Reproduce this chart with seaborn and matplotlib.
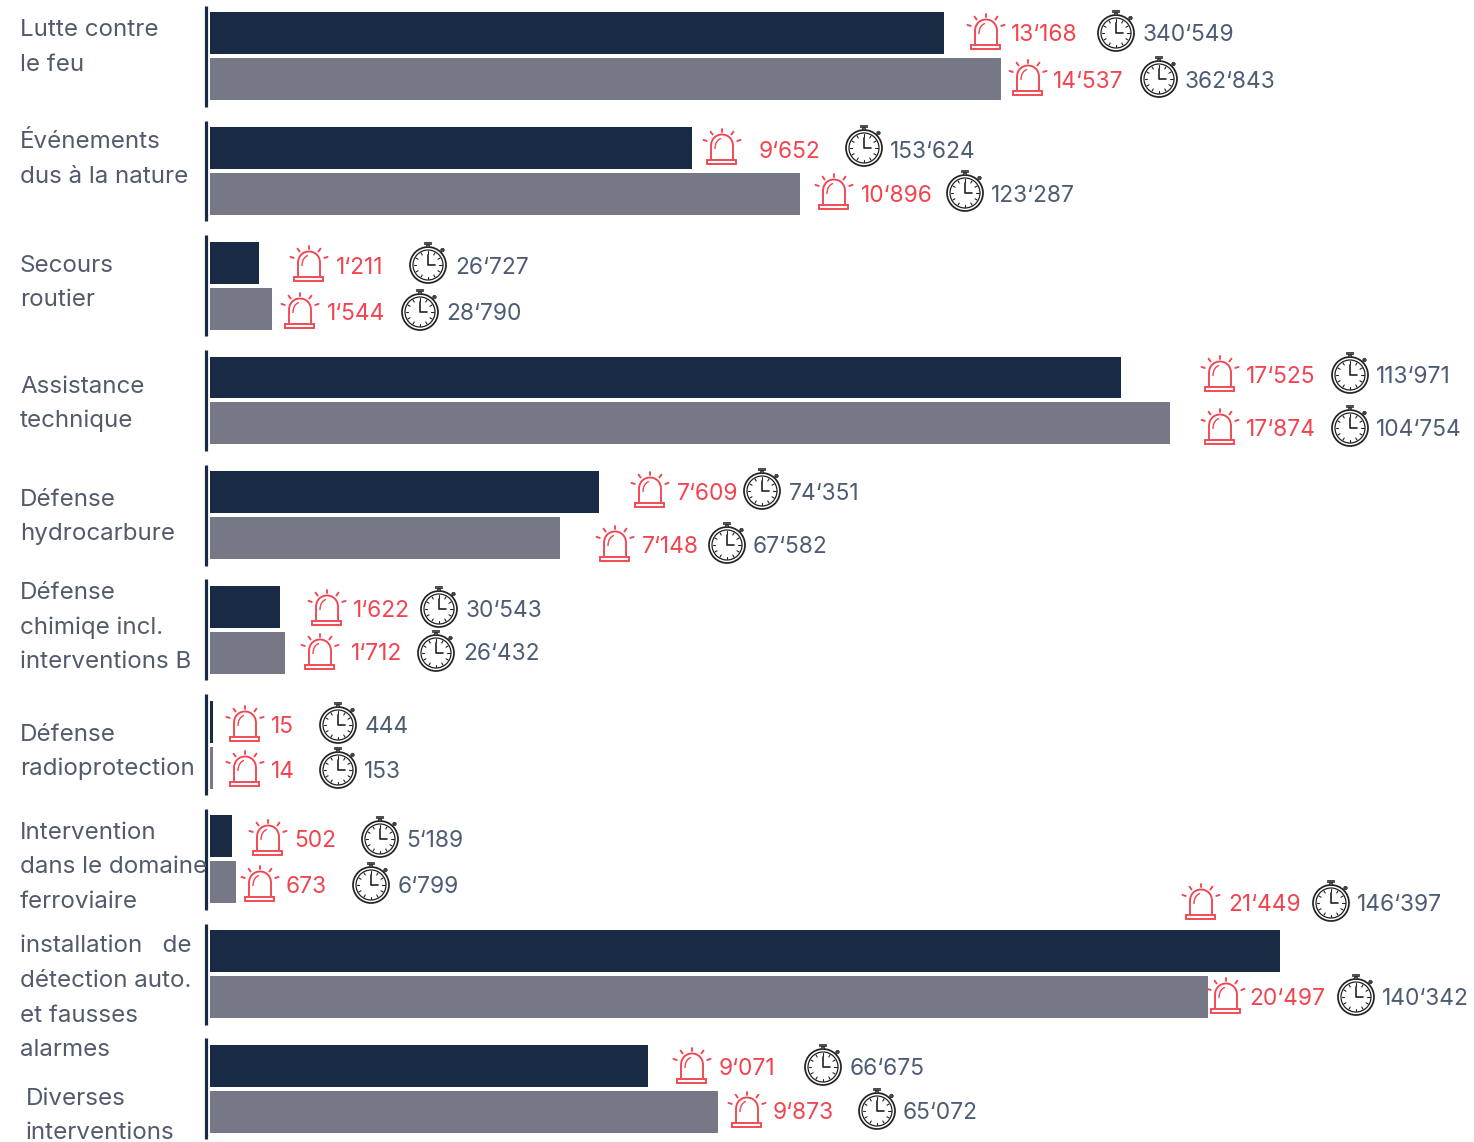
import numpy as np
import pandas as pd
import matplotlib
matplotlib.use("Agg")
import matplotlib.pyplot as plt
import seaborn as sns
from matplotlib.transforms import Affine2D
from matplotlib.patches import Circle, Rectangle, PathPatch
from matplotlib.path import Path

W, H = 1474, 1142
DARK, GREY, RED, LABEL, NUM = "#182a44", "#767886", "#f2444f", "#515b6b", "#4d5c73"

categories = ["Lutte contre le feu", "Événements dus à la nature", "Secours routier",
              "Assistance technique", "Défense hydrocarbure",
              "Défense chimiqe incl. interventions B", "Défense radioprotection",
              "Intervention dans le domaine ferroviaire",
              "installation de détection auto. et fausses alarmes", "Diverses interventions"]
label_lines = [["Lutte contre", "le feu"], ["Événements", "dus à la nature"], ["Secours", "routier"],
               ["Assistance", "technique"], ["Défense", "hydrocarbure"],
               ["Défense", "chimiqe incl.", "interventions B"], ["Défense", "radioprotection"],
               ["Intervention", "dans le domaine", "ferroviaire"],
               ["installation   de", "détection auto.", "et fausses", "alarmes"],
               ["Diverses", "interventions"]]

# bar lengths as drawn (they are not strictly proportional to the printed numbers)
bars_a = [734, 482, 49, 911, 389, 70, 3, 22, 1070, 438]
bars_b = [791, 590, 62, 960, 350, 75, 3, 26, 998, 508]
alarms_a = [13168, 9652, 1211, 17525, 7609, 1622, 15, 502, 21449, 9071]
alarms_b = [14537, 10896, 1544, 17874, 7148, 1712, 14, 673, 20497, 9873]
hours_a = [340549, 153624, 26727, 113971, 74351, 30543, 444, 5189, 146397, 66675]
hours_b = [362843, 123287, 28790, 104754, 67582, 26432, 153, 6799, 140342, 65072]

# layout (pixels): alarm x, alarm text x, watch x, watch text x, icon y, text y
layout_a = [(985, 1011, 1116, 1143, 32, 33), (721, 759, 864, 890, 147, 150), (308, 336, 428, 455, 264, 266),
            (1219, 1246, 1350, 1376, 374, 375), (649, 677, 762, 789, 490, 492), (326, 353, 439, 466, 608, 609),
            (244, 271, 338, 365, 724, 725), (267, 294, 380, 406, 838, 839), (1200, 1228, 1331, 1357, 902, 903),
            (691, 719, 823, 850, 1066, 1067)]
layout_b = [(1027, 1053, 1159, 1185, 78, 80), (833, 861, 965, 991, 192, 194), (299, 327, 420, 446, 311, 312),
            (1219, 1246, 1350, 1376, 427, 428), (614, 642, 727, 753, 544, 545), (319, 351, 436, 463, 652, 652),
            (244, 271, 338, 364, 769, 770), (259, 286, 371, 398, 884, 885), (1225, 1249, 1356, 1382, 996, 997),
            (746, 773, 877, 903, 1110, 1111)]
label_y = [[28, 63], [140, 175], [264, 298], [385, 419], [498, 532], [591, 626, 660], [733, 767],
           [831, 865, 900], [944, 979, 1014, 1048], [1097, 1131]]
label_x = [20, 20, 20, 20, 20, 20, 20, 20, 20, 26]
TEXT_DY = 2

sns.set_style("white")
plt.rcParams["font.family"] = ["Inter", "DejaVu Sans"]

df = pd.DataFrame({
    "categorie": categories * 2,
    "longueur": bars_a + bars_b,
    "serie": ["A"] * len(categories) + ["B"] * len(categories),
})

fig = plt.figure(figsize=(W / 100, H / 100), dpi=100, facecolor="white")
ax = fig.add_axes([0, 0, 1, 1])
sns.barplot(data=df, y="categorie", x="longueur", hue="serie", orient="h", ax=ax,
            palette=[DARK, GREY], width=0.8, gap=0.087, saturation=1, legend=False, linewidth=0)
step = 114.72
y0 = 56.3
ax.set_xlim(-210, W - 210)
ax.set_ylim((H - y0) / step, -y0 / step)
ax.axis("off")
rows = np.arange(len(categories))
ax.vlines(np.full(len(rows), -3.5), rows - 0.44, rows + 0.44, color=DARK, lw=2.3)

px = Affine2D().scale(1 / W, -1 / H).translate(0, 1) + fig.transFigure


def line(xs, ys, color, lw):
    ax.plot(xs, ys, color=color, lw=lw, transform=px, solid_capstyle="round", clip_on=False)


def alarm(cx, cy):
    lw = 1.35
    cx = cx + 1
    dome = Path([(cx - 11, cy + 12), (cx - 11, cy - 1), (cx - 11, cy - 8), (cx - 6, cy - 12.5), (cx, cy - 12.5),
                 (cx + 6, cy - 12.5), (cx + 11, cy - 8), (cx + 11, cy - 1), (cx + 11, cy + 12)],
                [Path.MOVETO, Path.LINETO, Path.CURVE4, Path.CURVE4, Path.CURVE4,
                 Path.CURVE4, Path.CURVE4, Path.LINETO, Path.LINETO])
    ax.add_patch(PathPatch(dome, fc="none", ec=RED, lw=lw, transform=px, clip_on=False))
    ax.add_patch(Rectangle((cx - 14.5, cy + 12.5), 29, 4.5, fc="none", ec=RED, lw=lw, transform=px, clip_on=False))
    hi = Path([(cx - 7, cy + 2), (cx - 7, cy - 4), (cx - 4.5, cy - 7.5), (cx - 1, cy - 8.5)],
              [Path.MOVETO, Path.CURVE4, Path.CURVE4, Path.CURVE4])
    ax.add_patch(PathPatch(hi, fc="none", ec=RED, lw=1.0, transform=px, clip_on=False))
    for a in (-72, -36, 0, 36, 72):
        s, c = np.sin(np.radians(a)), np.cos(np.radians(a))
        line([cx + 16 * s, cx + 19.5 * s], [cy - 2 - 13 * c, cy - 2 - 16.5 * c], RED, lw)


def watch(cx, cy):
    k = "#222222"
    ax.add_patch(Circle((cx, cy), 18, fc="none", ec=k, lw=1.25, transform=px, clip_on=False))
    ax.add_patch(Circle((cx, cy), 15, fc="none", ec=k, lw=0.9, transform=px, clip_on=False))
    ax.add_patch(Rectangle((cx - 1.5, cy - 21), 3, 3, fc="#555555", ec=k, lw=0.5, transform=px, clip_on=False))
    ax.add_patch(Rectangle((cx - 3.5, cy - 23), 7, 2, fc="#555555", ec=k, lw=0.5, transform=px, clip_on=False))
    ax.add_patch(Circle((cx + 14.5, cy - 15), 1.8, fc="#444444", ec=k, lw=0.4, transform=px, clip_on=False))
    for a in range(0, 360, 30):
        s, c = np.sin(np.radians(a)), np.cos(np.radians(a))
        line([cx + 11.5 * s, cx + 14 * s], [cy - 11.5 * c, cy - 14 * c], k, 0.8)
    line([cx, cx, cx + 7], [cy - 10, cy, cy], k, 1.2)


def fmt(v):
    return f"{v:,}".replace(",", "‘")


for i in range(len(categories)):
    for txt, y in zip(label_lines[i], label_y[i]):
        ax.text(label_x[i], y + TEXT_DY, txt, transform=px, fontsize=17.4, color=LABEL, va="center", ha="left")
    for lay, al, hr in ((layout_a[i], alarms_a[i], hours_a[i]), (layout_b[i], alarms_b[i], hours_b[i])):
        ax_, tx1, wx, tx2, iy, ty = lay
        alarm(ax_, iy)
        watch(wx, iy + 1)
        ax.text(tx1, ty + TEXT_DY, fmt(al), transform=px, fontsize=16.4, color=RED, va="center", ha="left")
        ax.text(tx2, ty + TEXT_DY, fmt(hr), transform=px, fontsize=16.4, color=NUM, va="center", ha="left")

fig.savefig("out.png", dpi=100, facecolor="white")
